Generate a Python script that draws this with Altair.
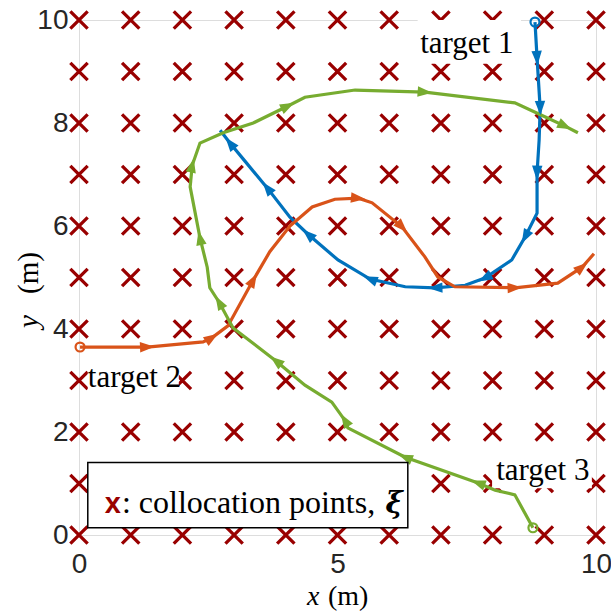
import math
import altair as alt
import pandas as pd

# ---------------- data ----------------
grid_vals = [0, 1, 2, 3, 4, 5, 6, 7, 8, 9, 10]

blue_x = [8.82, 8.86, 8.92, 8.90, 8.86, 8.86, 8.63, 8.37, 7.85, 7.47, 6.89, 6.31, 5.63, 5.01, 4.43, 4.08, 3.64, 3.21, 2.92, 2.73]
blue_y = [9.96, 9.26, 8.29, 7.67, 7.03, 6.25, 5.79, 5.34, 4.99, 4.85, 4.80, 4.82, 4.97, 5.34, 5.84, 6.17, 6.74, 7.26, 7.61, 7.86]
blue_arrows = [1, 2, 4, 6, 8, 10, 12, 14, 16, 18]

orange_x = [0.02, 1.32, 2.40, 2.57, 2.88, 3.37, 3.69, 4.08, 4.51, 4.95, 5.40, 5.67, 6.25, 6.69, 6.94, 7.27, 8.43, 9.26, 9.73, 9.96]
orange_y = [3.65, 3.65, 3.75, 3.83, 4.06, 4.95, 5.50, 6.00, 6.37, 6.52, 6.54, 6.45, 5.98, 5.40, 5.01, 4.82, 4.80, 4.89, 5.20, 5.46]
orange_arrows = [1, 3, 5, 10, 12, 16, 18]

green_x = [8.78, 8.43, 8.05, 7.72, 6.31, 5.20, 5.14, 4.89, 4.37, 3.81, 2.98, 2.71, 2.53, 2.48, 2.34, 2.15, 2.19, 2.34, 2.79, 3.37, 4.04, 4.37, 5.34, 6.69, 8.43, 9.01, 9.40, 9.65]
green_y = [0.14, 0.78, 0.87, 1.01, 1.51, 2.08, 2.23, 2.58, 2.91, 3.38, 4.02, 4.52, 4.80, 5.20, 5.77, 6.76, 7.18, 7.61, 7.81, 8.00, 8.33, 8.50, 8.64, 8.60, 8.39, 8.12, 7.94, 7.81]
green_arrows = [3, 4, 6, 9, 11, 14, 16, 20, 23, 26]

path_names = ["blue", "orange", "green"]
path_colors = ["#0072BD", "#D95319", "#77AC30"]

label_text = ["target 1", "target 2", "target 3"]
label_x = [6.60, 0.17, 8.07]
label_y = [9.36, 2.87, 1.07]
# white boxes behind the labels
box_x = [6.55, 0.17, 7.99]
box_x2 = [8.55, 1.93, 9.92]
box_y = [10.0, 3.40, 1.61]
box_y2 = [9.15, 2.62, 0.91]

legend_box = dict(x=0.17, x2=6.36, y=1.41, y2=0.14)
legend_mark_x, legend_text_x, legend_xi_x, legend_y = 0.50, 0.83, 5.93, 0.43

# ---------------- frames ----------------
grid_df = pd.DataFrame([(gx, gy) for gx in grid_vals for gy in grid_vals], columns=["x", "y"])

rows, arrows, starts = [], [], []
for name, xs, ys, arr in [("blue", blue_x, blue_y, blue_arrows),
                          ("orange", orange_x, orange_y, orange_arrows),
                          ("green", green_x, green_y, green_arrows)]:
    for i, (a, b) in enumerate(zip(xs, ys)):
        rows.append(dict(path=name, order=i, x=a, y=b))
    for i in arr:
        dx = xs[i + 1] - xs[i - 1]
        dy = ys[i + 1] - ys[i - 1]
        ang = math.degrees(math.atan2(dx, dy)) % 360
        arrows.append(dict(path=name, x=xs[i], y=ys[i], angle=ang))
    starts.append(dict(path=name, x=xs[0], y=ys[0]))
paths_df = pd.DataFrame(rows)
arrows_df = pd.DataFrame(arrows)
starts_df = pd.DataFrame(starts)
labels_df = pd.DataFrame(dict(text=label_text, x=label_x, y=label_y))
boxes_df = pd.DataFrame(dict(x=box_x, x2=box_x2, y=box_y, y2=box_y2))
legend_df = pd.DataFrame([legend_box])

xscale = alt.Scale(domain=[0, 10], nice=False, zero=False)
yscale = alt.Scale(domain=[0, 10], nice=False, zero=False)
color = alt.Color("path:N", scale=alt.Scale(domain=path_names, range=path_colors), legend=None)

X = alt.X("x:Q", scale=xscale,
          axis=alt.Axis(values=[0, 5, 10], title=None, grid=False, domain=False, ticks=False,
                        labelFontSize=28, labelFont="Liberation Sans", labelColor="#262626",
                        labelPadding=15, labelFlush=False))
Y = alt.Y("y:Q", scale=yscale,
          axis=alt.Axis(values=[0, 2, 4, 6, 8, 10], title=None, grid=False, domain=False, ticks=False,
                        labelFontSize=28, labelFont="Liberation Sans", labelColor="#262626",
                        labelPadding=11, labelFlush=False))

crosses = alt.Chart(grid_df).mark_point(
    shape="M-1,-1L1,1M-1,1L1,-1", filled=False, stroke="#990000", strokeWidth=3.3,
    size=300, opacity=1
).encode(x=X, y=Y)

boxes = alt.Chart(boxes_df).mark_rect(fill="white", stroke=None).encode(
    x=alt.X("x:Q", scale=xscale), x2="x2:Q", y=alt.Y("y:Q", scale=yscale), y2="y2:Q")

lines = alt.Chart(paths_df).mark_line(strokeWidth=3.2).encode(
    x=alt.X("x:Q", scale=xscale), y=alt.Y("y:Q", scale=yscale), color=color, order="order:Q")

heads = alt.Chart(arrows_df).mark_point(
    shape="M0,-1L0.72,1L-0.72,1Z", filled=True, size=210, opacity=1
).encode(x=alt.X("x:Q", scale=xscale), y=alt.Y("y:Q", scale=yscale), color=color,
         angle=alt.Angle("angle:Q", scale=None))

start_pts = alt.Chart(starts_df).mark_point(
    shape="circle", filled=False, size=80, strokeWidth=2.2, opacity=1
).encode(x=alt.X("x:Q", scale=xscale), y=alt.Y("y:Q", scale=yscale), color=color)

labels = alt.Chart(labels_df).mark_text(
    font="Liberation Serif", fontSize=31, align="left", baseline="alphabetic", color="black"
).encode(x=alt.X("x:Q", scale=xscale), y=alt.Y("y:Q", scale=yscale), text="text:N")

legend_rect = alt.Chart(legend_df).mark_rect(fill="white", stroke="black", strokeWidth=1.5).encode(
    x=alt.X("x:Q", scale=xscale), x2="x2:Q", y=alt.Y("y:Q", scale=yscale), y2="y2:Q")

leg_df = pd.DataFrame(dict(x=[legend_mark_x], xt=[legend_text_x], xi=[legend_xi_x], y=[legend_y]))
leg_mark = alt.Chart(leg_df).mark_text(
    text="x", font="Liberation Sans", fontWeight="bold", fontSize=29, color="#990000",
    align="left", baseline="alphabetic"
).encode(x=alt.X("x:Q", scale=xscale), y=alt.Y("y:Q", scale=yscale))
leg_text = alt.Chart(leg_df).mark_text(
    text=": collocation points,", font="Liberation Serif", fontSize=32, color="black",
    align="left", baseline="alphabetic"
).encode(x=alt.X("xt:Q", scale=xscale), y=alt.Y("y:Q", scale=yscale))
leg_xi = alt.Chart(leg_df).mark_text(
    text="ξ", font="DejaVu Serif", fontSize=29, fontWeight="bold", fontStyle="italic",
    color="black", align="left", baseline="alphabetic"
).encode(x=alt.X("xi:Q", scale=xscale), y=alt.Y("y:Q", scale=yscale))

# axis titles with italic variable names
title_df = pd.DataFrame(dict(a=[0]))
xt_var = alt.Chart(title_df).mark_text(
    text="x", font="Liberation Serif", fontStyle="italic", fontSize=28, align="left",
    baseline="alphabetic", color="black"
).encode(x=alt.value(228), y=alt.value(585))
xt_unit = alt.Chart(title_df).mark_text(
    text="(m)", font="Liberation Serif", fontSize=28, align="left",
    baseline="alphabetic", color="black"
).encode(x=alt.value(249), y=alt.value(585))
yt_var = alt.Chart(title_df).mark_text(
    text="y", font="Liberation Serif", fontStyle="italic", fontSize=29, align="left",
    baseline="alphabetic", color="black", angle=270
).encode(x=alt.value(-41), y=alt.value(308))
yt_unit = alt.Chart(title_df).mark_text(
    text="(m)", font="Liberation Serif", fontSize=29, align="left",
    baseline="alphabetic", color="black", angle=270
).encode(x=alt.value(-41), y=alt.value(274))

chart = alt.layer(
    crosses, boxes, lines, heads, start_pts, labels, legend_rect, leg_mark, leg_text, leg_xi,
    xt_var, xt_unit, yt_var, yt_unit
).properties(
    width=517, height=515,
    padding={"left": 79, "top": 20, "right": 15, "bottom": 76},
    autosize=alt.AutoSizeParams(type="none"),
).configure_view(stroke="#8c8c8c", strokeWidth=1.5).configure(background="white")

chart.save("out.html", embed_options={"renderer": "svg", "actions": False})
